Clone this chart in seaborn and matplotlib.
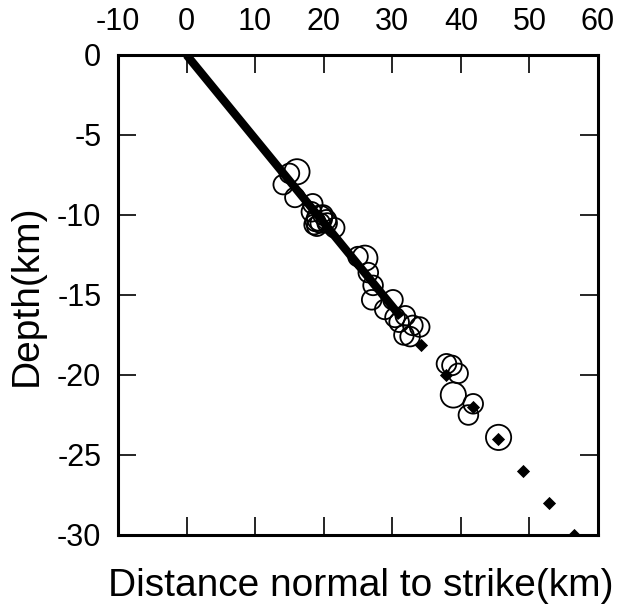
import matplotlib
matplotlib.use("Agg")
import matplotlib.pyplot as plt
import seaborn as sns
import pandas as pd

# Earthquake hypocentres (distance normal to strike, depth, relative size)
eq_x = [14.1, 15.0, 16.1, 15.8, 18.4, 18.2, 18.8, 19.4, 19.9, 20.4, 19.0, 18.6, 19.5, 21.6, 20.5,
        25.0, 26.0, 26.5, 27.2, 27.0, 30.1, 28.9, 30.4, 31.0, 31.7, 32.6, 33.0, 34.0, 31.9,
        37.9, 38.7, 39.6, 38.9, 41.8, 41.1, 45.5]
eq_y = [-8.1, -7.4, -7.3, -8.9, -9.3, -9.8, -10.4, -10.2, -10.0, -10.3, -10.7, -10.6, -10.5, -10.8, -10.5,
        -12.6, -12.7, -13.6, -14.4, -15.3, -15.3, -15.9, -16.4, -16.7, -17.5, -17.6, -16.9, -17.0, -16.3,
        -19.3, -19.4, -19.9, -21.25, -21.8, -22.5, -23.9]
eq_size = [2, 2, 3, 2, 2, 2, 2, 3, 2, 2, 2, 2, 2, 2, 2,
           2, 3, 2, 2, 2, 2, 2, 2, 2, 2, 2, 2, 2, 2,
           2, 2, 2, 3, 2, 2, 3]

# Fault plane (solid part) and its projected extension (diamonds)
fault_x = [0.0, 31.3]
fault_y = [0.0, -16.4]
ext_x = [34.2, 37.9, 41.7, 45.4, 49.1, 52.9, 56.5]
ext_y = [-18.1, -20.0, -22.0, -24.0, -26.0, -28.0, -30.0]

x_ticks = [-10, 0, 10, 20, 30, 40, 50, 60]
y_ticks = [0, -5, -10, -15, -20, -25, -30]

sns.set_style("ticks")
plt.rcParams['font.family'] = ['Liberation Sans', 'DejaVu Sans']
plt.rcParams['text.color'] = 'black'
plt.rcParams['axes.labelcolor'] = 'black'
plt.rcParams['xtick.color'] = 'black'
plt.rcParams['ytick.color'] = 'black'

fig = plt.figure(figsize=(6.2, 6.05), dpi=100)
ax = fig.add_axes([118 / 620, 70 / 605, 480 / 620, 480 / 605])

eq = pd.DataFrame({"x": eq_x, "y": eq_y, "s": eq_size})
fault = pd.DataFrame({"x": fault_x, "y": fault_y})
ext = pd.DataFrame({"x": ext_x, "y": ext_y})

sns.lineplot(data=fault, x="x", y="y", ax=ax, color="black", linewidth=6, sort=False,
             solid_capstyle="butt", zorder=2)
sns.scatterplot(data=eq, x="x", y="y", size="s", sizes={2: 200, 3: 330}, ax=ax,
                marker="o", facecolors="none", edgecolor="black", linewidth=1.3,
                legend=False, zorder=3)
sns.scatterplot(data=ext, x="x", y="y", ax=ax, marker="D", s=45, color="black",
                edgecolor="black", linewidth=0, zorder=4)

ax.set_xlim(-10, 60)
ax.set_ylim(-30, 0)
ax.set_xticks(x_ticks)
ax.set_yticks(y_ticks)
ax.set_xticklabels([str(v) for v in x_ticks])
ax.set_yticklabels([str(v) for v in y_ticks])

ax.tick_params(axis="both", direction="in", length=13, width=1.2, labelsize=22,
               colors="black",
               top=True, bottom=True, left=True, right=True,
               labeltop=True, labelbottom=False, labelleft=True, labelright=False)
ax.tick_params(axis="x", pad=13)
ax.tick_params(axis="y", pad=12)

for sp in ax.spines.values():
    sp.set_linewidth(2.2)
    sp.set_color("black")

ax.set_xlabel("Distance normal to strike(km)", fontsize=28, color="black")
ax.set_ylabel("Depth(km)", fontsize=28, color="black")
ax.xaxis.set_label_position("bottom")
ax.xaxis.set_label_coords(0.505, -0.068)
ax.yaxis.set_label_coords(-0.152, 0.5)

fig.savefig("out.png", dpi=100)
